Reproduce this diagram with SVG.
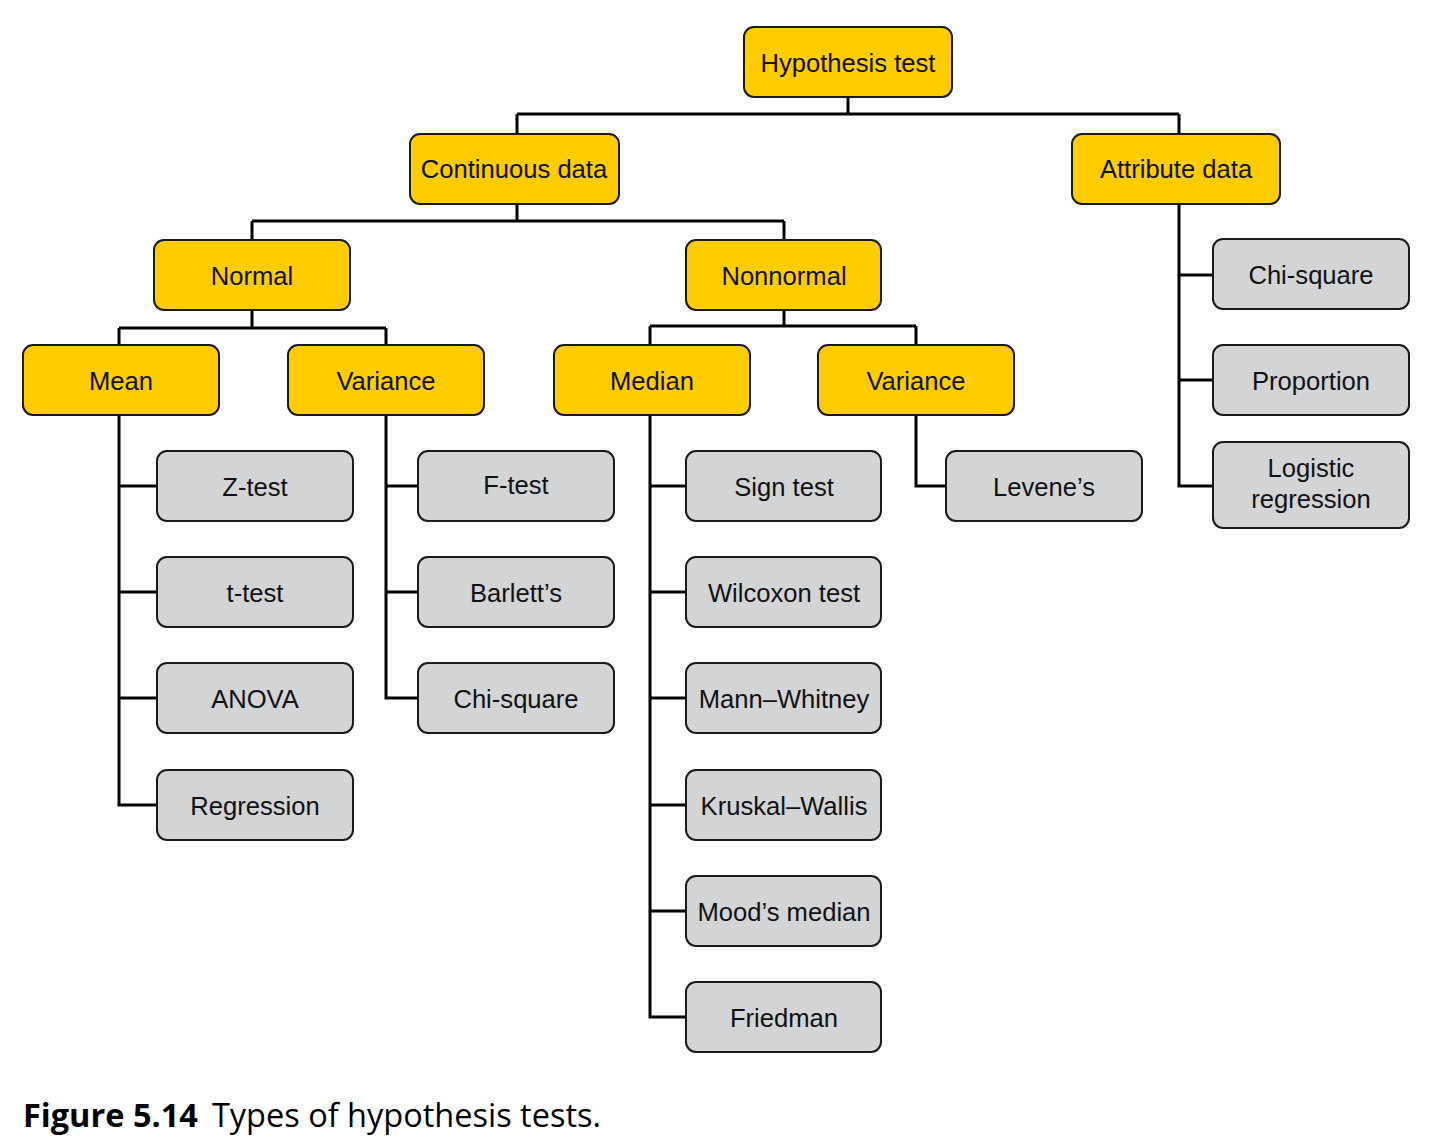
<svg xmlns="http://www.w3.org/2000/svg" width="1434" height="1145" viewBox="0 0 1434 1145">
<style>
.y{fill:#FFCC00;stroke:#1a1a1a;stroke-width:2}
.g{fill:#D3D4D6;stroke:#1a1a1a;stroke-width:2}
text{font-family:"Liberation Sans",Arial,sans-serif;font-size:25.6px;fill:#111;text-anchor:middle}
.c{fill:none;stroke:#000;stroke-width:3}
.cap{font-family:"Open Sans","Noto Sans",sans-serif;font-size:32.5px;text-anchor:start;fill:#000}
</style>
<rect width="1434" height="1145" fill="#fff"/>
<g id="connectors" class="c">
<path d="M848 97V114M517 114H1179M517 114V134M1179 114V134"/>
<path d="M517 204V221M252 221H784M252 221V240M784 221V240"/>
<path d="M252 310V328M119 328H386M119 328V345M386 328V345"/>
<path d="M784 310V326M650 326H916M650 326V345M916 326V345"/>
<path d="M119 415V805H157M119 486H157M119 592H157M119 698H157"/>
<path d="M386 415V698H418M386 486H418M386 592H418"/>
<path d="M650 415V1017H686M650 486H686M650 592H686M650 698H686M650 805H686M650 911H686"/>
<path d="M916 415V486H946"/>
<path d="M1179 204V486H1213M1179 275H1213M1179 380H1213"/>
</g>
<g id="n-hyp"><rect class="y" x="744" y="27" width="208" height="70" rx="10"/><text x="848" y="72">Hypothesis test</text></g>
<g id="n-cont"><rect class="y" x="410" y="134" width="209" height="70" rx="10"/><text x="514" y="178">Continuous data</text></g>
<g id="n-attr"><rect class="y" x="1072" y="134" width="208" height="70" rx="10"/><text x="1176" y="178">Attribute data</text></g>
<g id="n-normal"><rect class="y" x="154" y="240" width="196" height="70" rx="10"/><text x="252" y="285">Normal</text></g>
<g id="n-nonnormal"><rect class="y" x="686" y="240" width="195" height="70" rx="10"/><text x="784" y="285">Nonnormal</text></g>
<g id="n-mean"><rect class="y" x="23" y="345" width="196" height="70" rx="10"/><text x="121" y="390">Mean</text></g>
<g id="n-var1"><rect class="y" x="288" y="345" width="196" height="70" rx="10"/><text x="386" y="390">Variance</text></g>
<g id="n-median"><rect class="y" x="554" y="345" width="196" height="70" rx="10"/><text x="652" y="390">Median</text></g>
<g id="n-var2"><rect class="y" x="818" y="345" width="196" height="70" rx="10"/><text x="916" y="390">Variance</text></g>
<g id="n-ztest"><rect class="g" x="157" y="451" width="196" height="70" rx="10"/><text x="255" y="496">Z-test</text></g>
<g id="n-ttest"><rect class="g" x="157" y="557" width="196" height="70" rx="10"/><text x="255" y="602">t-test</text></g>
<g id="n-anova"><rect class="g" x="157" y="663" width="196" height="70" rx="10"/><text x="255" y="708">ANOVA</text></g>
<g id="n-regr"><rect class="g" x="157" y="770" width="196" height="70" rx="10"/><text x="255" y="815">Regression</text></g>
<g id="n-ftest"><rect class="g" x="418" y="451" width="196" height="70" rx="10"/><text x="516" y="494">F-test</text></g>
<g id="n-barlett"><rect class="g" x="418" y="557" width="196" height="70" rx="10"/><text x="516" y="602">Barlett’s</text></g>
<g id="n-chisq1"><rect class="g" x="418" y="663" width="196" height="70" rx="10"/><text x="516" y="708">Chi-square</text></g>
<g id="n-sign"><rect class="g" x="686" y="451" width="195" height="70" rx="10"/><text x="784" y="496">Sign test</text></g>
<g id="n-wilcoxon"><rect class="g" x="686" y="557" width="195" height="70" rx="10"/><text x="784" y="602">Wilcoxon test</text></g>
<g id="n-mann"><rect class="g" x="686" y="663" width="195" height="70" rx="10"/><text x="784" y="708">Mann–Whitney</text></g>
<g id="n-kruskal"><rect class="g" x="686" y="770" width="195" height="70" rx="10"/><text x="784" y="815">Kruskal–Wallis</text></g>
<g id="n-mood"><rect class="g" x="686" y="876" width="195" height="70" rx="10"/><text x="784" y="921">Mood’s median</text></g>
<g id="n-friedman"><rect class="g" x="686" y="982" width="195" height="70" rx="10"/><text x="784" y="1027">Friedman</text></g>
<g id="n-levene"><rect class="g" x="946" y="451" width="196" height="70" rx="10"/><text x="1044" y="496">Levene’s</text></g>
<g id="n-chisq2"><rect class="g" x="1213" y="239" width="196" height="70" rx="10"/><text x="1311" y="284">Chi-square</text></g>
<g id="n-prop"><rect class="g" x="1213" y="345" width="196" height="70" rx="10"/><text x="1311" y="390">Proportion</text></g>
<g id="n-logit"><rect class="g" x="1213" y="442" width="196" height="86" rx="10"/><text x="1311" y="477">Logistic</text><text x="1311" y="508">regression</text></g>
<text class="cap" x="23" y="1127"><tspan font-weight="bold">Figure 5.14</tspan><tspan dx="14">Types of hypothesis tests.</tspan></text>
</svg>
